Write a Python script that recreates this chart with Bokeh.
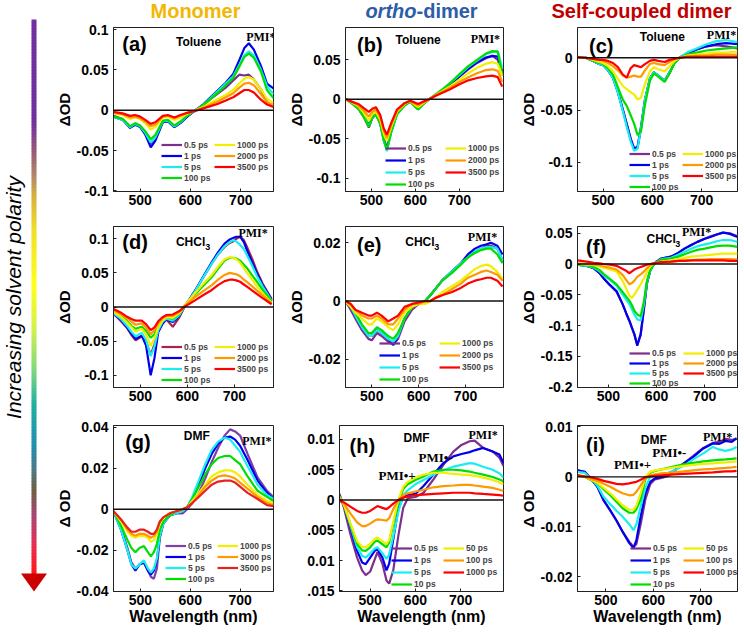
import numpy as np
from bokeh.plotting import figure
from bokeh.models import Range1d, FixedTicker, Span, Label, Legend, LegendItem
from bokeh.layouts import row, column
from bokeh.embed import file_html
from bokeh.resources import INLINE
from bokeh.core.properties import value

SANS = "Liberation Sans"
SERIF = "Liberation Serif"

# ---------------- legend labels (delay times) ----------------
delays_a = ["0.5 ps", "1 ps", "5 ps", "100 ps", "1000 ps", "2000 ps", "3500 ps"]
delays_g = ["0.5 ps", "1 ps", "5 ps", "100 ps", "1000 ps", "3000 ps", "3500 ps"]
delays_h = ["0.5 ps", "1 ps", "5 ps", "10 ps", "50 ps", "100 ps", "1000 ps"]

colors_std = ["#7E2F8E", "#0000EE", "#19EEEE", "#00DD00", "#F2EE00", "#FF9900", "#FF0000"]
colors_d = ["#A8214F", "#0000EE", "#19EEEE", "#00DD00", "#F2EE00", "#FF9900", "#FF0000"]
colors_g = ["#7E3FA8", "#0000EE", "#19EEEE", "#00DD00", "#F2EE00", "#FF9900", "#E82020"]

xticks = [500, 600, 700]

# column titles
title_mono = "Monomer"
title_ortho = ["ortho", "-dimer"]
title_self = "Self-coupled dimer"

# ---------------- (a) Monomer, Toluene ----------------
a_wl = [447, 465, 480, 490, 500, 510, 521, 530, 545, 555, 568, 580, 595, 610, 625, 640, 655, 670, 685, 697, 707, 716, 726, 740, 752, 765]
a_0p5 = [-0.007, -0.011, -0.021, -0.017, -0.020, -0.029, -0.042, -0.035, -0.015, -0.013, -0.020, -0.015, -0.007, 0.000, 0.006, 0.014, 0.021, 0.028, 0.037, 0.044, 0.043, 0.044, 0.038, 0.026, 0.010, 0.005]
a_1 = [-0.008, -0.012, -0.022, -0.018, -0.021, -0.030, -0.046, -0.038, -0.015, -0.014, -0.021, -0.016, -0.007, 0.000, 0.007, 0.016, 0.025, 0.034, 0.045, 0.062, 0.077, 0.083, 0.075, 0.055, 0.033, 0.027]
a_5 = [-0.008, -0.012, -0.021, -0.017, -0.020, -0.028, -0.040, -0.034, -0.014, -0.013, -0.020, -0.015, -0.006, 0.000, 0.006, 0.015, 0.024, 0.033, 0.042, 0.056, 0.068, 0.073, 0.068, 0.050, 0.030, 0.020]
a_100 = [-0.008, -0.011, -0.020, -0.016, -0.019, -0.026, -0.036, -0.031, -0.013, -0.012, -0.019, -0.014, -0.006, 0.000, 0.006, 0.014, 0.022, 0.031, 0.040, 0.054, 0.066, 0.070, 0.065, 0.048, 0.025, 0.015]
a_1000 = [-0.004, -0.006, -0.011, -0.009, -0.011, -0.016, -0.024, -0.021, -0.009, -0.008, -0.012, -0.009, -0.004, 0.000, 0.004, 0.009, 0.014, 0.019, 0.025, 0.033, 0.039, 0.041, 0.038, 0.026, 0.014, 0.009]
a_2000 = [-0.003, -0.005, -0.009, -0.008, -0.010, -0.014, -0.020, -0.018, -0.008, -0.007, -0.010, -0.007, -0.003, 0.000, 0.003, 0.007, 0.011, 0.016, 0.021, 0.028, 0.033, 0.034, 0.031, 0.020, 0.010, 0.006]
a_3500 = [-0.002, -0.004, -0.007, -0.006, -0.008, -0.012, -0.017, -0.015, -0.007, -0.006, -0.009, -0.006, -0.003, -0.001, 0.002, 0.005, 0.008, 0.012, 0.016, 0.021, 0.025, 0.025, 0.022, 0.013, 0.007, 0.004]
a_yticks = [-0.1, -0.05, 0, 0.05, 0.1]
a_ylabels = ["-0.1", "-0.05", "0", "0.05", "0.1"]

# ---------------- (b) ortho-dimer, Toluene ----------------
b_wl = [442, 455, 470, 482, 494, 502, 510, 520, 528, 535, 545, 558, 575, 588, 598, 606, 618, 631, 645, 660, 680, 700, 720, 740, 760, 775, 787, 797]
b_0p5 = [0.000, -0.005, -0.012, -0.022, -0.036, -0.024, -0.019, -0.031, -0.052, -0.064, -0.041, -0.018, -0.007, -0.003, -0.008, -0.012, -0.006, 0.000, 0.005, 0.011, 0.019, 0.029, 0.038, 0.046, 0.052, 0.055, 0.050, 0.030]
b_1 = [0.000, -0.004, -0.010, -0.020, -0.033, -0.022, -0.018, -0.030, -0.050, -0.062, -0.040, -0.018, -0.007, -0.003, -0.008, -0.012, -0.006, 0.000, 0.005, 0.011, 0.019, 0.029, 0.039, 0.047, 0.053, 0.055, 0.054, 0.035]
b_5 = [0.000, -0.005, -0.011, -0.021, -0.034, -0.023, -0.019, -0.031, -0.053, -0.066, -0.042, -0.019, -0.008, -0.003, -0.009, -0.013, -0.006, 0.000, 0.006, 0.012, 0.021, 0.031, 0.041, 0.049, 0.057, 0.060, 0.061, 0.040]
b_100 = [0.000, -0.005, -0.012, -0.022, -0.035, -0.023, -0.019, -0.031, -0.052, -0.064, -0.041, -0.019, -0.008, -0.003, -0.009, -0.013, -0.006, 0.000, 0.006, 0.012, 0.021, 0.032, 0.042, 0.050, 0.058, 0.061, 0.060, 0.032]
b_1000 = [0.000, -0.004, -0.009, -0.017, -0.027, -0.019, -0.016, -0.026, -0.044, -0.053, -0.035, -0.016, -0.006, -0.002, -0.007, -0.010, -0.005, 0.000, 0.005, 0.010, 0.017, 0.025, 0.033, 0.040, 0.045, 0.047, 0.045, 0.030]
b_2000 = [0.000, -0.003, -0.008, -0.014, -0.022, -0.016, -0.013, -0.023, -0.040, -0.049, -0.032, -0.015, -0.005, -0.002, -0.006, -0.008, -0.004, 0.000, 0.005, 0.009, 0.015, 0.022, 0.028, 0.033, 0.037, 0.038, 0.036, 0.022]
b_3500 = [0.000, -0.003, -0.006, -0.011, -0.016, -0.012, -0.010, -0.020, -0.037, -0.045, -0.030, -0.013, -0.005, -0.002, -0.004, -0.006, -0.003, 0.000, 0.004, 0.008, 0.013, 0.019, 0.024, 0.027, 0.029, 0.030, 0.028, 0.016]
b_yticks = [-0.1, -0.05, 0, 0.05]
b_ylabels = ["-0.1", "-0.05", "0", "0.05"]

# ---------------- (c) Self-coupled dimer, Toluene ----------------
c_wl = [448, 465, 480, 492, 500, 510, 520, 530, 540, 548, 556, 563, 570, 577, 585, 595, 603, 612, 625, 635, 645, 655, 670, 690, 710, 730, 750, 773]
c_0p5 = [0.000, 0.000, -0.003, -0.006, -0.007, -0.012, -0.019, -0.032, -0.049, -0.063, -0.077, -0.087, -0.086, -0.068, -0.041, -0.020, -0.014, -0.017, -0.022, -0.014, -0.005, 0.000, 0.004, 0.008, 0.011, 0.012, 0.011, 0.009]
c_1 = [0.000, 0.000, -0.003, -0.006, -0.007, -0.012, -0.019, -0.033, -0.050, -0.064, -0.078, -0.087, -0.085, -0.066, -0.040, -0.020, -0.014, -0.017, -0.022, -0.014, -0.005, 0.000, 0.004, 0.008, 0.011, 0.013, 0.014, 0.013]
c_5 = [0.000, 0.000, -0.003, -0.006, -0.007, -0.012, -0.019, -0.033, -0.051, -0.066, -0.080, -0.089, -0.087, -0.067, -0.040, -0.020, -0.014, -0.017, -0.022, -0.014, -0.005, 0.000, 0.005, 0.009, 0.013, 0.016, 0.017, 0.015]
c_100 = [0.000, 0.000, -0.003, -0.005, -0.006, -0.010, -0.016, -0.028, -0.040, -0.046, -0.055, -0.063, -0.074, -0.070, -0.045, -0.022, -0.015, -0.018, -0.023, -0.015, -0.005, 0.000, 0.003, 0.005, 0.007, 0.008, 0.009, 0.010]
c_1000 = [0.000, 0.000, -0.002, -0.004, -0.005, -0.008, -0.013, -0.020, -0.027, -0.030, -0.033, -0.035, -0.040, -0.038, -0.025, -0.013, -0.009, -0.011, -0.013, -0.008, -0.003, 0.000, 0.002, 0.003, 0.004, 0.005, 0.005, 0.006]
c_2000 = [0.000, 0.000, -0.001, -0.002, -0.003, -0.005, -0.008, -0.012, -0.017, -0.019, -0.018, -0.017, -0.018, -0.018, -0.012, -0.006, -0.005, -0.006, -0.007, -0.004, -0.001, 0.000, 0.001, 0.002, 0.002, 0.003, 0.003, 0.003]
c_3500 = [0.001, 0.000, -0.001, -0.002, -0.002, -0.003, -0.005, -0.009, -0.016, -0.019, -0.010, -0.007, -0.008, -0.009, -0.006, -0.003, -0.002, -0.003, -0.004, -0.002, -0.001, 0.000, 0.001, 0.001, 0.001, 0.001, 0.001, 0.001]
c_yticks = [-0.1, -0.05, 0]
c_ylabels = ["-0.1", "-0.05", "0"]

# ---------------- (d) Monomer, CHCl3 ----------------
d_wl = [443, 458, 471, 482, 490, 503, 512, 522, 530, 538, 547, 555, 569, 583, 593, 605, 617, 635, 652, 665, 679, 690, 697, 704, 712, 720, 728, 738, 748, 760, 779]
d_0p5 = [-0.010, -0.020, -0.030, -0.042, -0.049, -0.043, -0.050, -0.070, -0.055, -0.035, -0.024, -0.018, -0.029, -0.015, -0.001, 0.011, 0.024, 0.045, 0.064, 0.077, 0.088, 0.094, 0.096, 0.100, 0.103, 0.098, 0.086, 0.070, 0.052, 0.034, 0.012]
d_1 = [-0.010, -0.018, -0.029, -0.040, -0.047, -0.042, -0.056, -0.100, -0.075, -0.037, -0.025, -0.018, -0.022, -0.013, 0.000, 0.012, 0.025, 0.046, 0.066, 0.080, 0.093, 0.099, 0.101, 0.103, 0.103, 0.095, 0.081, 0.065, 0.049, 0.032, 0.010]
d_5 = [-0.009, -0.017, -0.027, -0.037, -0.043, -0.038, -0.048, -0.072, -0.058, -0.034, -0.022, -0.017, -0.020, -0.012, 0.000, 0.011, 0.024, 0.045, 0.064, 0.077, 0.089, 0.095, 0.098, 0.096, 0.091, 0.085, 0.074, 0.060, 0.045, 0.030, 0.009]
d_100 = [-0.007, -0.013, -0.020, -0.028, -0.032, -0.029, -0.035, -0.045, -0.040, -0.027, -0.019, -0.015, -0.017, -0.010, 0.000, 0.009, 0.019, 0.032, 0.044, 0.056, 0.068, 0.072, 0.072, 0.071, 0.068, 0.062, 0.056, 0.046, 0.037, 0.025, 0.008]
d_1000 = [-0.007, -0.014, -0.022, -0.030, -0.036, -0.032, -0.040, -0.057, -0.046, -0.030, -0.020, -0.015, -0.016, -0.009, 0.001, 0.011, 0.021, 0.035, 0.047, 0.059, 0.070, 0.073, 0.072, 0.070, 0.065, 0.057, 0.049, 0.040, 0.030, 0.020, 0.006]
d_2000 = [-0.005, -0.010, -0.016, -0.022, -0.026, -0.024, -0.030, -0.040, -0.034, -0.024, -0.017, -0.013, -0.013, -0.007, 0.001, 0.008, 0.015, 0.024, 0.032, 0.040, 0.047, 0.050, 0.049, 0.048, 0.045, 0.040, 0.036, 0.030, 0.024, 0.017, 0.005]
d_3500 = [-0.003, -0.008, -0.014, -0.018, -0.020, -0.020, -0.025, -0.034, -0.030, -0.021, -0.015, -0.012, -0.011, -0.006, 0.000, 0.005, 0.010, 0.018, 0.025, 0.032, 0.038, 0.040, 0.040, 0.039, 0.037, 0.033, 0.029, 0.024, 0.019, 0.013, 0.004]
d_yticks = [-0.1, -0.05, 0, 0.05, 0.1]
d_ylabels = ["-0.1", "-0.05", "0", "0.05", "0.1"]

# ---------------- (e) ortho-dimer, CHCl3 ----------------
e_wl = [444, 455, 465, 479, 493, 500, 511, 521, 535, 546, 556, 570, 586, 600, 614, 625, 635, 650, 670, 690, 705, 720, 733, 745, 754, 768, 779]
e_0p5 = [0.000, -0.003, -0.006, -0.010, -0.013, -0.0135, -0.011, -0.012, -0.014, -0.015, -0.013, -0.007, -0.003, -0.001, 0.000, 0.002, 0.004, 0.007, 0.010, 0.013, 0.015, 0.017, 0.018, 0.019, 0.019, 0.018, 0.014]
e_1 = [0.000, -0.002, -0.005, -0.009, -0.012, -0.012, -0.010, -0.011, -0.013, -0.015, -0.012, -0.006, -0.002, -0.001, 0.000, 0.002, 0.004, 0.007, 0.010, 0.013, 0.016, 0.018, 0.019, 0.0195, 0.020, 0.019, 0.016]
e_5 = [0.000, -0.002, -0.005, -0.009, -0.012, -0.012, -0.010, -0.011, -0.013, -0.014, -0.012, -0.006, -0.002, -0.001, 0.000, 0.002, 0.004, 0.007, 0.010, 0.013, 0.015, 0.017, 0.018, 0.0185, 0.0185, 0.018, 0.014]
e_100 = [0.000, -0.002, -0.004, -0.008, -0.011, -0.011, -0.009, -0.010, -0.012, -0.013, -0.011, -0.006, -0.002, -0.001, 0.000, 0.002, 0.004, 0.007, 0.0095, 0.0125, 0.015, 0.0165, 0.0175, 0.018, 0.018, 0.016, 0.013]
e_1000 = [0.000, -0.002, -0.004, -0.006, -0.008, -0.008, -0.006, -0.007, -0.009, -0.010, -0.008, -0.004, -0.002, -0.001, -0.001, 0.000, 0.001, 0.003, 0.005, 0.007, 0.009, 0.011, 0.012, 0.0125, 0.012, 0.010, 0.0075]
e_2000 = [0.000, -0.001, -0.003, -0.005, -0.006, -0.006, -0.005, -0.006, -0.008, -0.008, -0.006, -0.003, -0.001, -0.001, 0.000, 0.000, 0.001, 0.002, 0.004, 0.006, 0.008, 0.009, 0.010, 0.0105, 0.010, 0.009, 0.007]
e_3500 = [0.000, -0.001, -0.003, -0.004, -0.005, -0.005, -0.004, -0.005, -0.007, -0.006, -0.005, -0.002, -0.001, -0.0005, 0.000, 0.000, 0.001, 0.002, 0.003, 0.0045, 0.006, 0.007, 0.0075, 0.008, 0.008, 0.007, 0.005]
e_yticks = [-0.02, 0, 0.02]
e_ylabels = ["-0.02", "0", "0.02"]

# ---------------- (f) Self-coupled dimer, CHCl3 ----------------
f_wl = [436, 455, 470, 482, 490, 503, 517, 530, 537, 544, 549, 554, 560, 567, 574, 580, 587, 593, 600, 610, 630, 645, 658, 672, 685, 700, 712, 725, 738, 752, 768]
f_0p5 = [-0.001, -0.003, -0.007, -0.015, -0.023, -0.034, -0.045, -0.066, -0.080, -0.093, -0.104, -0.115, -0.131, -0.116, -0.073, -0.032, -0.011, -0.002, 0.004, 0.009, 0.012, 0.018, 0.025, 0.031, 0.036, 0.041, 0.045, 0.048, 0.051, 0.050, 0.045]
f_1 = [-0.001, -0.003, -0.007, -0.015, -0.023, -0.034, -0.044, -0.066, -0.080, -0.093, -0.104, -0.114, -0.133, -0.114, -0.071, -0.031, -0.010, -0.002, 0.004, 0.009, 0.012, 0.018, 0.025, 0.031, 0.036, 0.041, 0.044, 0.048, 0.051, 0.049, 0.044]
f_5 = [-0.001, -0.003, -0.006, -0.012, -0.018, -0.026, -0.035, -0.050, -0.058, -0.066, -0.074, -0.082, -0.090, -0.092, -0.065, -0.030, -0.010, -0.002, 0.003, 0.008, 0.010, 0.015, 0.020, 0.025, 0.029, 0.032, 0.034, 0.037, 0.039, 0.039, 0.036]
f_100 = [-0.001, -0.002, -0.005, -0.010, -0.016, -0.024, -0.033, -0.046, -0.053, -0.060, -0.067, -0.076, -0.082, -0.085, -0.060, -0.028, -0.009, -0.002, 0.003, 0.007, 0.009, 0.012, 0.016, 0.020, 0.023, 0.025, 0.027, 0.029, 0.030, 0.030, 0.028]
f_1000 = [0.000, -0.001, -0.002, -0.004, -0.006, -0.009, -0.012, -0.028, -0.040, -0.052, -0.055, -0.050, -0.042, -0.033, -0.023, -0.013, -0.004, 0.000, 0.002, 0.004, 0.006, 0.008, 0.010, 0.012, 0.013, 0.014, 0.015, 0.016, 0.017, 0.017, 0.017]
f_2000 = [0.001, 0.000, -0.001, -0.002, -0.004, -0.006, -0.009, -0.018, -0.026, -0.033, -0.031, -0.027, -0.021, -0.017, -0.012, -0.007, -0.002, 0.000, 0.002, 0.003, 0.004, 0.005, 0.006, 0.006, 0.007, 0.007, 0.008, 0.008, 0.008, 0.008, 0.007]
f_3500 = [0.006, 0.004, 0.002, 0.001, 0.000, -0.001, -0.003, -0.008, -0.011, -0.015, -0.012, -0.009, -0.007, -0.005, -0.003, -0.001, 0.000, 0.001, 0.002, 0.003, 0.004, 0.005, 0.005, 0.006, 0.006, 0.006, 0.006, 0.006, 0.006, 0.005, 0.005]
f_yticks = [-0.2, -0.15, -0.1, -0.05, 0, 0.05]
f_ylabels = ["-0.2", "-0.15", "-0.1", "-0.05", "0", "0.05"]

# ---------------- (g) Monomer, DMF ----------------
g_wl = [446, 461, 474, 482, 490, 498, 507, 515, 521, 527, 533, 539, 546, 559, 572, 585, 594, 604, 617, 630, 643, 656, 669, 680, 690, 700, 715, 735, 754, 767]
g_0p5 = [-0.001, -0.009, -0.019, -0.026, -0.029, -0.027, -0.026, -0.030, -0.033, -0.034, -0.029, -0.014, -0.007, -0.003, -0.002, -0.002, 0.000, 0.003, 0.008, 0.015, 0.023, 0.030, 0.036, 0.039, 0.038, 0.036, 0.027, 0.0155, 0.009, 0.006]
g_1 = [-0.001, -0.010, -0.020, -0.027, -0.030, -0.027, -0.026, -0.030, -0.032, -0.030, -0.025, -0.013, -0.007, -0.003, -0.002, -0.001, 0.001, 0.005, 0.012, 0.020, 0.027, 0.032, 0.035, 0.0355, 0.034, 0.031, 0.024, 0.014, 0.008, 0.005]
g_5 = [-0.001, -0.010, -0.020, -0.027, -0.029, -0.027, -0.025, -0.029, -0.031, -0.029, -0.024, -0.013, -0.007, -0.003, -0.002, -0.001, 0.001, 0.006, 0.014, 0.022, 0.029, 0.033, 0.035, 0.034, 0.031, 0.028, 0.021, 0.012, 0.007, 0.005]
g_100 = [-0.001, -0.008, -0.015, -0.019, -0.021, -0.019, -0.018, -0.021, -0.023, -0.021, -0.017, -0.010, -0.006, -0.003, -0.001, 0.000, 0.001, 0.005, 0.011, 0.017, 0.022, 0.025, 0.026, 0.026, 0.024, 0.022, 0.016, 0.009, 0.006, 0.004]
g_1000 = [-0.001, -0.006, -0.011, -0.013, -0.014, -0.013, -0.013, -0.014, -0.016, -0.015, -0.012, -0.007, -0.004, -0.002, -0.001, 0.000, 0.001, 0.004, 0.008, 0.012, 0.016, 0.018, 0.019, 0.019, 0.018, 0.016, 0.012, 0.007, 0.004, 0.003]
g_3000 = [-0.001, -0.005, -0.010, -0.012, -0.013, -0.012, -0.012, -0.013, -0.014, -0.013, -0.011, -0.006, -0.004, -0.002, -0.001, 0.000, 0.001, 0.003, 0.007, 0.011, 0.014, 0.016, 0.0165, 0.016, 0.015, 0.013, 0.010, 0.006, 0.003, 0.002]
g_3500 = [-0.001, -0.005, -0.009, -0.011, -0.011, -0.010, -0.010, -0.011, -0.012, -0.012, -0.010, -0.006, -0.004, -0.002, -0.001, 0.000, 0.001, 0.003, 0.006, 0.009, 0.012, 0.0135, 0.014, 0.014, 0.013, 0.011, 0.008, 0.005, 0.002, 0.0015]
g_yticks = [-0.04, -0.02, 0, 0.02, 0.04]
g_ylabels = ["-0.04", "-0.02", "0", "0.02", "0.04"]

# ---------------- (h) ortho-dimer, DMF ----------------
h_wl = [432, 442, 456, 471, 482, 490, 500, 510, 516, 527, 536, 542, 551, 562, 573, 583, 600, 618, 640, 662, 684, 702, 720, 731, 750, 771, 786, 795]
h_0p5 = [0.001, -0.0013, -0.0056, -0.0095, -0.0116, -0.0124, -0.0118, -0.0098, -0.0086, -0.0105, -0.0133, -0.0138, -0.0116, -0.006, -0.0013, 0.0003, 0.0005, 0.0012, 0.0034, 0.0058, 0.008, 0.0091, 0.0097, 0.0098, 0.0086, 0.008, 0.007, 0.0056]
h_1 = [0.0005, -0.0007, -0.0045, -0.0084, -0.0103, -0.0106, -0.0095, -0.0084, -0.0081, -0.0095, -0.0116, -0.0105, -0.0065, -0.0015, 0.0005, 0.0008, 0.0010, 0.0023, 0.0042, 0.0061, 0.0072, 0.0076, 0.0079, 0.0082, 0.0086, 0.0080, 0.0075, 0.0061]
h_5 = [0.0005, -0.0008, -0.0042, -0.0078, -0.0092, -0.0095, -0.0088, -0.0080, -0.0078, -0.0088, -0.0097, -0.0090, -0.0060, -0.0020, 0.0008, 0.0016, 0.0026, 0.0033, 0.0042, 0.0049, 0.0055, 0.0058, 0.0061, 0.0060, 0.0055, 0.0050, 0.0044, 0.0037]
h_10 = [0.0005, -0.0008, -0.0040, -0.0072, -0.0083, -0.0084, -0.0078, -0.0069, -0.0067, -0.0073, -0.0078, -0.0070, -0.0040, -0.0005, 0.0018, 0.0026, 0.0033, 0.0039, 0.0047, 0.0050, 0.0050, 0.0049, 0.0047, 0.0045, 0.0042, 0.0038, 0.0034, 0.0031]
h_50 = [0.0005, -0.0008, -0.0038, -0.0068, -0.0077, -0.0078, -0.0072, -0.0064, -0.0062, -0.0068, -0.0073, -0.0066, -0.0036, 0.0000, 0.0022, 0.0030, 0.0037, 0.0042, 0.0045, 0.0045, 0.0043, 0.0042, 0.0041, 0.0040, 0.0037, 0.0033, 0.0029, 0.0026]
h_100 = [0.0003, -0.0006, -0.0022, -0.0037, -0.0043, -0.0043, -0.0039, -0.0034, -0.0032, -0.0033, -0.0034, -0.0030, -0.0015, 0.0000, 0.0008, 0.0011, 0.0014, 0.0017, 0.0021, 0.0023, 0.0024, 0.0025, 0.0025, 0.0024, 0.0022, 0.0020, 0.0017, 0.0015]
h_1000 = [-0.0002, -0.0004, -0.0011, -0.0018, -0.0021, -0.0021, -0.0018, -0.0013, -0.0010, -0.0013, -0.0015, -0.0012, -0.0006, 0.0000, 0.0004, 0.0006, 0.0008, 0.0009, 0.0010, 0.0011, 0.0012, 0.0012, 0.0012, 0.0011, 0.0010, 0.0009, 0.0008, 0.0007]
h_yticks = [-0.015, -0.01, -0.005, 0, 0.005, 0.01]
h_ylabels = [".015", "0.01", ".005", "0", ".005", "0.01"]

# ---------------- (i) Self-coupled dimer, DMF ----------------
i_wl = [440, 455, 465, 482, 495, 509, 522, 535, 549, 558, 564, 573, 583, 593, 603, 617, 631, 644, 664, 684, 705, 725, 738, 752, 765, 775]
i_0p5 = [0.0013, 0.001, 0.0, -0.002, -0.0047, -0.0068, -0.0088, -0.011, -0.013, -0.0140, -0.0135, -0.0095, -0.0045, -0.0015, -0.0005, -0.0002, 0.0002, 0.0012, 0.0027, 0.0042, 0.0058, 0.0068, 0.0070, 0.0076, 0.0074, 0.0077]
i_1 = [0.0013, 0.001, 0.0, -0.002, -0.0047, -0.0067, -0.0087, -0.011, -0.0133, -0.0143, -0.0127, -0.008, -0.0033, -0.001, -0.0003, 0.0, 0.0003, 0.0013, 0.0027, 0.004, 0.0057, 0.0067, 0.0066, 0.0072, 0.0070, 0.0077]
i_5 = [0.001, 0.0008, 0.0, -0.0018, -0.0040, -0.0055, -0.0068, -0.0080, -0.0095, -0.0107, -0.0095, -0.006, -0.0022, 0.0000, 0.0003, 0.0006, 0.0008, 0.0013, 0.0022, 0.0035, 0.0047, 0.0060, 0.0055, 0.0052, 0.0055, 0.0060]
i_10 = [0.0003, 0.0, -0.0005, -0.0013, -0.0025, -0.0037, -0.0050, -0.0063, -0.0072, -0.0072, -0.0065, -0.0045, -0.0005, 0.0008, 0.0012, 0.0015, 0.0018, 0.0021, 0.0025, 0.0028, 0.0031, 0.0033, 0.0034, 0.0035, 0.0036, 0.0037]
i_50 = [0.0003, 0.0, -0.0004, -0.0012, -0.0022, -0.0033, -0.0045, -0.0057, -0.0066, -0.0066, -0.0058, -0.0033, 0.0, 0.001, 0.0013, 0.0015, 0.0017, 0.0019, 0.0022, 0.0024, 0.0026, 0.0027, 0.0028, 0.0029, 0.0030, 0.0031]
i_100 = [0.0003, 0.0, -0.0003, -0.0008, -0.0014, -0.0020, -0.0027, -0.0033, -0.0037, -0.0036, -0.0030, -0.0017, -0.0003, 0.0003, 0.0005, 0.0007, 0.0008, 0.0009, 0.0011, 0.0013, 0.0015, 0.0016, 0.0017, 0.0018, 0.0019, 0.0020]
i_1000 = [0.0003, 0.0001, 0.0, -0.0004, -0.0008, -0.0011, -0.0014, -0.0015, -0.0013, -0.0011, -0.0010, -0.0006, -0.0001, 0.0001, 0.0002, 0.0003, 0.0004, 0.0005, 0.0006, 0.0007, 0.0008, 0.0009, 0.0010, 0.0011, 0.0011, 0.0012]
i_yticks = [-0.02, -0.01, 0, 0.01]
i_ylabels = ["-0.02", "-0.01", "0", "0.01"]

# ---------------- layout geometry ----------------
COLS = [dict(w=232, bl=57, br=11), dict(w=232, bl=55, br=13), dict(w=228, bl=54, br=7)]
ROWS = [dict(h=192, bt=6, bb=22), dict(h=196, bt=13, bb=22), dict(h=222, bt=16, bb=40)]
TITLE_H = 21
ARROW_W = 52
TOTAL_H = TITLE_H + sum(r["h"] for r in ROWS)

PANELS = [
    dict(tag="(a)", solv="Toluene", wl=a_wl, ys=[a_0p5, a_1, a_5, a_100, a_1000, a_2000, a_3500], names=delays_a, colors=colors_std,
         xr=(447, 765), yr=(-0.1008, 0.1025), yt=a_yticks, ytl=a_ylabels, ylab="ΔOD",
         leg=(48, 101, 112, 11), tag_at=(9, 16), solv_at=(64, 14), pmi_at=(136, 9), extra=[]),
    dict(tag="(b)", solv="Toluene", wl=b_wl, ys=[b_0p5, b_1, b_5, b_100, b_1000, b_2000, b_3500], names=delays_a, colors=colors_std,
         xr=(441, 800), yr=(-0.117, 0.091), yt=b_yticks, ytl=b_ylabels, ylab="ΔOD",
         leg=(40, 100, 115, 12), tag_at=(12, 17), solv_at=(52, 12), pmi_at=(130, 11), extra=[]),
    dict(tag="(c)", solv="Toluene", wl=c_wl, ys=[c_0p5, c_1, c_5, c_100, c_1000, c_2000, c_3500], names=delays_a, colors=colors_std,
         xr=(448, 773), yr=(-0.128, 0.029), yt=c_yticks, ytl=c_ylabels, ylab="ΔOD",
         leg=(52, 105, 121, 11), tag_at=(12, 18), solv_at=(65, 9), pmi_at=(135, 7), extra=[]),
    dict(tag="(d)", solv="CHCl", wl=d_wl, ys=[d_0p5, d_1, d_5, d_100, d_1000, d_2000, d_3500], names=delays_a, colors=colors_d,
         xr=(443, 783), yr=(-0.118, 0.118), yt=d_yticks, ytl=d_ylabels, ylab="ΔOD",
         leg=(48, 101, 115, 11), tag_at=(9, 15), solv_at=(64, 15), pmi_at=(128, 6), extra=[]),
    dict(tag="(e)", solv="CHCl", wl=e_wl, ys=[e_0p5, e_1, e_5, e_100, e_1000, e_2000, e_3500], names=delays_a, colors=colors_std,
         xr=(444, 781), yr=(-0.0297, 0.0256), yt=e_yticks, ytl=e_ylabels, ylab="ΔOD",
         leg=(34, 94, 111, 12), tag_at=(12, 18), solv_at=(62, 15), pmi_at=(127, 10), extra=[]),
    dict(tag="(f)", solv="CHCl", wl=f_wl, ys=[f_0p5, f_1, f_5, f_100, f_1000, f_2000, f_3500], names=delays_a, colors=colors_std,
         xr=(436, 768), yr=(-0.2008, 0.061), yt=f_yticks, ytl=f_ylabels, ylab="ΔOD",
         leg=(52, 106, 122, 10), tag_at=(9, 20), solv_at=(72, 12), pmi_at=(109, 5), extra=[]),
    dict(tag="(g)", solv="DMF", wl=g_wl, ys=[g_0p5, g_1, g_5, g_100, g_1000, g_3000, g_3500], names=delays_g, colors=colors_g,
         xr=(446, 767), yr=(-0.0402, 0.0409), yt=g_yticks, ytl=g_ylabels, ylab="Δ OD",
         leg=(52, 104, 115, 11), tag_at=(12, 16), solv_at=(72, 10), pmi_at=(132, 15), extra=[]),
    dict(tag="(h)", solv="DMF", wl=h_wl, ys=[h_0p5, h_1, h_5, h_10, h_50, h_100, h_1000], names=delays_h, colors=colors_std,
         xr=(432, 795), yr=(-0.0151, 0.0123), yt=h_yticks, ytl=h_ylabels, ylab=None,
         leg=(52, 104, 117, 12), tag_at=(10, 20), solv_at=(64, 12), pmi_at=(129, 9),
         extra=[("PMI•-", 79, 32), ("PMI•+", 39, 50)]),
    dict(tag="(i)", solv="DMF", wl=i_wl, ys=[i_0p5, i_1, i_5, i_10, i_50, i_100, i_1000], names=delays_h, colors=colors_std,
         xr=(440, 777), yr=(-0.023, 0.0103), yt=i_yticks, ytl=i_ylabels, ylab="Δ OD",
         leg=(53, 106, 117, 12), tag_at=(9, 19), solv_at=(66, 14), pmi_at=(131, 11),
         extra=[("PMI•-", 78, 27), ("PMI•+", 38, 39)]),
]

AX = "#222222"


def make_panel(cfg, ci, ri):
    C, R = COLS[ci], ROWS[ri]
    fw = C["w"] - C["bl"] - C["br"]
    fh = R["h"] - R["bt"] - R["bb"]
    p = figure(width=C["w"], height=R["h"], x_range=Range1d(*cfg["xr"]), y_range=Range1d(*cfg["yr"]),
               output_backend="svg", toolbar_location=None, tools="",
               min_border_left=C["bl"], min_border_right=C["br"],
               min_border_top=R["bt"], min_border_bottom=R["bb"])
    p.grid.visible = False
    p.outline_line_color = AX
    p.outline_line_width = 1
    p.background_fill_color = "white"
    p.border_fill_color = "white"
    for ax in (p.xaxis[0], p.yaxis[0]):
        ax.axis_line_color = AX
        ax.major_tick_line_color = AX
        ax.major_tick_in = 3
        ax.major_tick_out = 0
        ax.minor_tick_line_color = None
        ax.major_label_text_font = SANS
        ax.major_label_text_font_style = "bold"
        ax.major_label_text_font_size = "14px"
        ax.major_label_text_color = "black"
        ax.axis_label_text_font = SANS
        ax.axis_label_text_font_style = "bold"
        ax.axis_label_text_color = "black"
    p.xaxis.ticker = FixedTicker(ticks=xticks)
    p.xaxis.major_label_standoff = 3
    p.yaxis.ticker = FixedTicker(ticks=cfg["yt"])
    p.yaxis.major_label_overrides = {t: s for t, s in zip(cfg["yt"], cfg["ytl"])}
    p.yaxis.major_label_standoff = 5
    if cfg["ylab"]:
        p.yaxis.axis_label = cfg["ylab"]
        p.yaxis.axis_label_text_font_size = "15px"
        p.yaxis.axis_label_standoff = 1
    if ri == 2:
        p.xaxis.axis_label = "Wavelength (nm)"
        p.xaxis.axis_label_text_font_size = "16px"
        p.xaxis.axis_label_standoff = 0

    rends = []
    for ys, col in zip(cfg["ys"], cfg["colors"]):
        rends.append(p.line(cfg["wl"], ys, line_color=col, line_width=2.2))
    p.add_layout(Span(location=0, dimension="width", line_color="#111111", line_width=1.4))

    x1, x2, top, ih = cfg["leg"]
    ih = int(ih)
    common = dict(orientation="vertical", border_line_alpha=0, background_fill_alpha=0,
                  label_text_font=SANS, label_text_font_style="bold", label_text_font_size="8.5px",
                  label_height=ih, glyph_height=ih, glyph_width=21, label_standoff=2,
                  spacing=0, padding=0, margin=0)
    names = cfg["names"]
    l1 = Legend(items=[LegendItem(label=names[k], renderers=[rends[k]]) for k in range(4)],
                location=(x1, fh - top - 4 * ih), **common)
    l2 = Legend(items=[LegendItem(label=names[k], renderers=[rends[k]]) for k in range(4, 7)],
                location=(x2, fh - top - 3 * ih), **common)
    p.add_layout(l1)
    p.add_layout(l2)

    x0, x1r = cfg["xr"]
    y0, y1r = cfg["yr"]

    def lab(text, px, py, font, size, style="bold"):
        x = x0 + px / fw * (x1r - x0)
        y = y1r - py / fh * (y1r - y0)
        p.add_layout(Label(x=x, y=y, text=text, text_font=font, text_font_size=size,
                           text_font_style=style, text_baseline="middle", text_align="left",
                           text_color="black"))

    lab(cfg["tag"], cfg["tag_at"][0], cfg["tag_at"][1], SANS, "20px")
    sx, sy = cfg["solv_at"]
    lab(cfg["solv"], sx, sy, SANS, "12px")
    if cfg["solv"] == "CHCl":
        lab("3", sx + 30, sy + 5, SANS, "9px")
    lab("PMI*", cfg["pmi_at"][0], cfg["pmi_at"][1], SERIF, "12px")
    for t, px, py in cfg["extra"]:
        lab(t, px, py, SERIF, "13px")
    return p


figs = [make_panel(cfg, k % 3, k // 3) for k, cfg in enumerate(PANELS)]

# ---------------- column titles ----------------
TB_W = sum(c["w"] for c in COLS)
tb = figure(width=TB_W, height=TITLE_H, x_range=Range1d(0, TB_W), y_range=Range1d(0, TITLE_H),
            output_backend="svg", toolbar_location=None, tools="",
            x_axis_location=None, y_axis_location=None, min_border=0)
tb.grid.visible = False
tb.outline_line_color = None
title_style = dict(text_font=value(SANS), text_font_size="20px", text_baseline="middle")
TY = 10.5
tb.text(x=[143], y=[TY], text=[title_mono], text_color="#F2B705", text_align="center",
        text_font_style="bold", **title_style)
tb.text(x=[364], y=[TY], text=[title_ortho[0]], text_color="#2E5DA8", text_align="right",
        text_font_style="bold italic", **title_style)
tb.text(x=[364], y=[TY], text=[title_ortho[1]], text_color="#2E5DA8", text_align="left",
        text_font_style="bold", **title_style)
tb.text(x=[589], y=[TY], text=[title_self], text_color="#C00000", text_align="center",
        text_font_style="bold", **title_style)

# ---------------- polarity arrow ----------------
af = figure(width=ARROW_W, height=TOTAL_H, x_range=Range1d(0, ARROW_W), y_range=Range1d(0, TOTAL_H),
            output_backend="svg", toolbar_location=None, tools="",
            x_axis_location=None, y_axis_location=None, min_border=0)
af.grid.visible = False
af.outline_line_color = None
stops_y = [19, 120, 150, 175, 195, 230, 285, 330, 370, 405, 445, 470, 490, 515, 545, 574]
stops_c = ["#7030A0", "#7030A0", "#985878", "#B08868", "#D8B040", "#F0E028", "#FFFF20", "#D0F050",
           "#80D880", "#20B0A0", "#2090B0", "#507888", "#706040", "#A84878", "#E83050", "#FF1818"]
rgb = np.array([[int(c[k:k + 2], 16) for k in (1, 3, 5)] for c in stops_c], dtype=float)
seg_top = np.arange(19, 574, 3.0)
seg_bot = np.minimum(seg_top + 3.5, 574)
mid = (seg_top + seg_bot) / 2
cols = []
for m in mid:
    r, g, b = (np.interp(m, stops_y, rgb[:, j]) for j in range(3))
    cols.append("#%02x%02x%02x" % (int(r), int(g), int(b)))
af.quad(left=31, right=36, top=TOTAL_H - seg_top, bottom=TOTAL_H - seg_bot, fill_color=cols, line_color=None)
af.patch(x=[20.5, 46.5, 33.5], y=[TOTAL_H - 573, TOTAL_H - 573, TOTAL_H - 591], fill_color="#CC0000", line_color=None)
af.text(x=[13], y=[TOTAL_H - 297], text=["Increasing solvent polarity"], angle=np.pi / 2,
        text_align="center", text_baseline="middle", text_font=value(SANS), text_font_style="italic",
        text_font_size="21px", text_color="black")

grid = column(tb, row(figs[0], figs[1], figs[2]), row(figs[3], figs[4], figs[5]), row(figs[6], figs[7], figs[8]))
layout = row(af, grid)

open("out.html", "w").write(file_html(layout, INLINE))
